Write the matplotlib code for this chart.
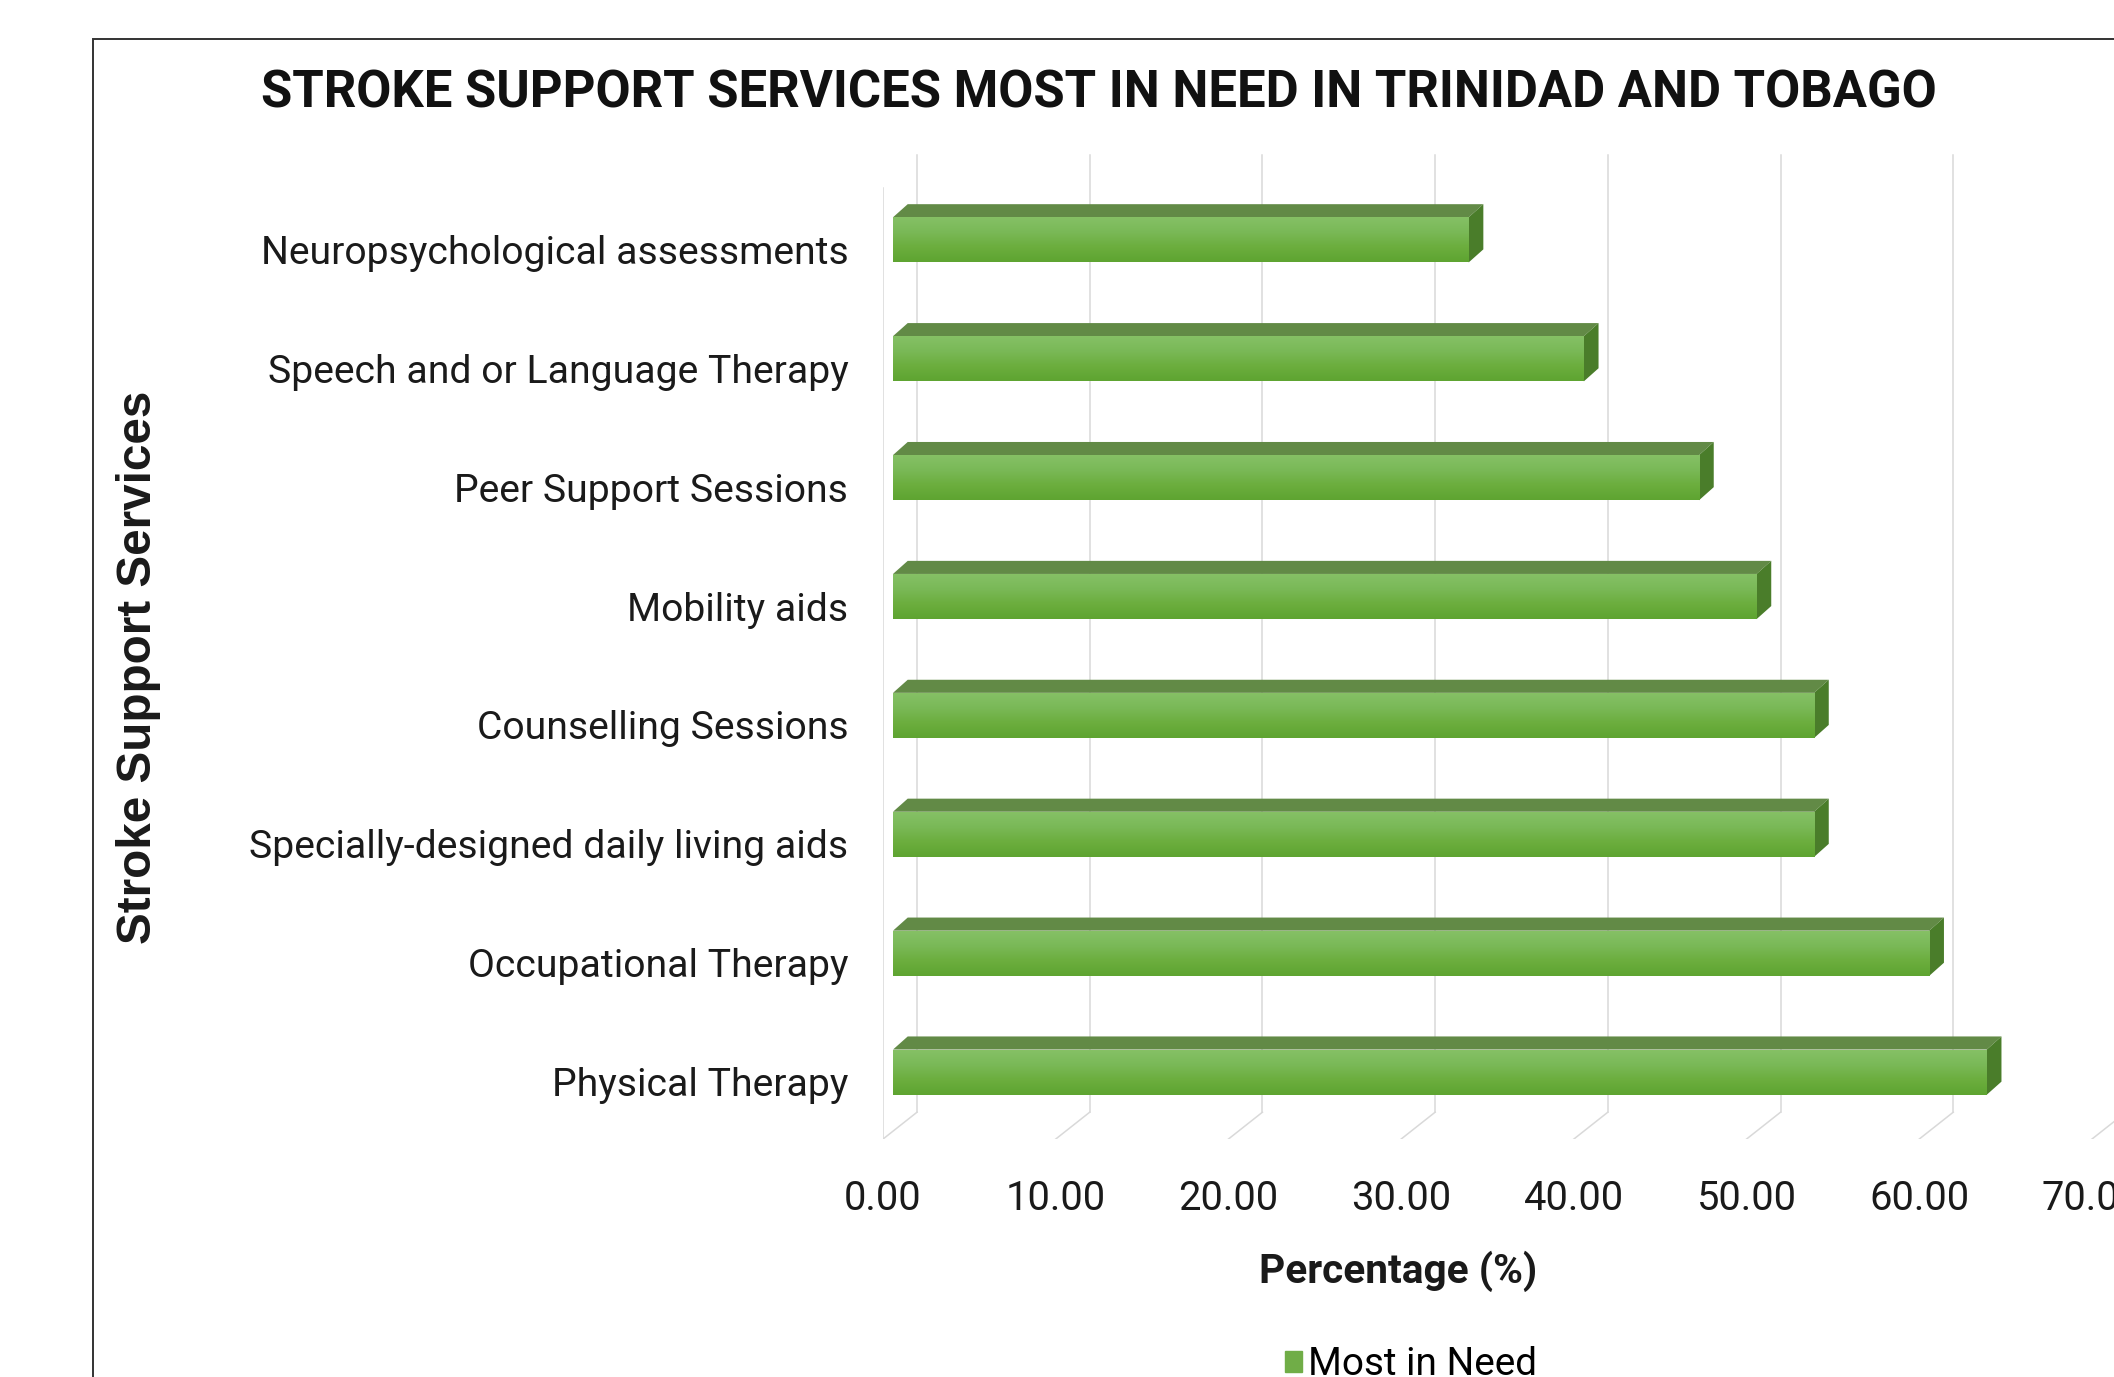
import numpy as np
import matplotlib
matplotlib.use('Agg')
import matplotlib.pyplot as plt
from matplotlib.patches import Polygon, Rectangle
from matplotlib.colors import LinearSegmentedColormap

# data (bottom to top, as drawn)
services = ["Physical Therapy", "Occupational Therapy", "Specially-designed daily living aids",
            "Counselling Sessions", "Mobility aids", "Peer Support Sessions",
            "Speech and or Language Therapy", "Neuropsychological assessments"]
percent = [63.33, 60.00, 53.33, 53.33, 50.00, 46.67, 40.00, 33.33]
x_ticks = [0, 10, 20, 30, 40, 50, 60, 70]
series_name = "Most in Need"
title = "STROKE SUPPORT SERVICES MOST IN NEED IN TRINIDAD AND TOBAGO"

# fake 3d geometry (data units)
floor_front, floor_back = -0.483, -0.257
wall_dx, wall_top, front_top = 1.97, 7.79, 7.52
bar_x0, bar_lo, bar_hi = 0.58, -0.11, 0.27
top_dx, top_dy = 0.85, 0.11

narrow = 'Roboto'
grid_c = '#d9d9d9'
txt_c = '#1a1a1a'

fig = plt.figure(figsize=(21.14, 13.77), dpi=100)
fig.patches.append(Rectangle((0.044, -0.2), 1.2, 0.2 + 0.9717, transform=fig.transFigure,
                             fill=False, edgecolor='#333333', linewidth=1.4))
renderer = fig.canvas.get_renderer()


def fit_size(text, target_px, **kw):
    # font size that makes text about target_px wide
    t = fig.text(0, 0, text, fontsize=30, **kw)
    w = t.get_window_extent(renderer).width
    t.remove()
    return 30 * target_px / w


ax = fig.add_axes([0.4177, 0.1728, 0.5923, 0.7195])
ax.patch.set_visible(False)
for s in ax.spines.values():
    s.set_visible(False)

# walls / gridlines
ax.plot([0, 0], [floor_front, front_top], color=grid_c, lw=1.1, zorder=1)
for t in x_ticks:
    ax.plot([t, t + wall_dx], [floor_front, floor_back], color=grid_c, lw=1.1, zorder=1)
    ax.plot([t + wall_dx, t + wall_dx], [floor_back, wall_top], color=grid_c, lw=1.1, zorder=1)

ypos = np.arange(len(services))
bars = ax.barh(ypos + (bar_lo + bar_hi) / 2, percent, left=bar_x0, height=bar_hi - bar_lo,
               color='#70ad47', edgecolor='none', zorder=3, label=series_name)

grad = LinearSegmentedColormap.from_list('g', ['#5ea431', '#6cae3e', '#7ab958', '#86c166'])
g = np.linspace(0, 1, 100).reshape(-1, 1)
for y, v, b in zip(ypos, percent, bars):
    im = ax.imshow(g, cmap=grad, origin='lower', aspect='auto', interpolation='bicubic',
                   extent=[bar_x0, bar_x0 + v, y + bar_lo, y + bar_hi], zorder=4)
    im.set_clip_path(b)
    top = Polygon([(bar_x0, y + bar_hi), (bar_x0 + top_dx, y + bar_hi + top_dy),
                   (bar_x0 + v + top_dx, y + bar_hi + top_dy), (bar_x0 + v, y + bar_hi)],
                  closed=True, facecolor='#628a46', edgecolor='none', zorder=3)
    side = Polygon([(bar_x0 + v, y + bar_lo), (bar_x0 + v, y + bar_hi),
                    (bar_x0 + v + top_dx, y + bar_hi + top_dy), (bar_x0 + v + top_dx, y + bar_lo + top_dy)],
                   closed=True, facecolor='#4a7d2a', edgecolor='none', zorder=3)
    ax.add_patch(top)
    ax.add_patch(side)

ax.set_xlim(0, 72.5)
ax.set_ylim(floor_front, 7.85)

tick_fs = fit_size("10.00", 100, family=narrow)
cat_fs = fit_size("Neuropsychological assessments", 585, family=narrow)

ax.set_xticks(x_ticks)
ax.set_xticklabels([f"{t:.2f}" for t in x_ticks], family=narrow, fontsize=tick_fs, color=txt_c)
ax.set_yticks(ypos)
ax.set_yticklabels(services, family=narrow, fontsize=cat_fs, color=txt_c)
ax.tick_params(axis='x', length=0, pad=29)
ax.tick_params(axis='y', length=0, pad=25)

xl_fs = fit_size("Percentage (%)", 278, family=narrow, fontweight='bold')
ax.set_xlabel("Percentage (%)", family=narrow, fontsize=xl_fs, fontweight='bold', color=txt_c)
ax.xaxis.label.set_va('center')
ax.xaxis.set_label_coords(0.411, -0.134)

yl_fs = fit_size("Stroke Support Services", 553, family='Liberation Sans', fontweight='bold')
ax.set_ylabel("Stroke Support Services", family='Liberation Sans', fontsize=yl_fs,
              fontweight='bold', color=txt_c)
ax.yaxis.label.set_va('center')
ax.yaxis.set_label_coords(-0.595, 0.476)

title_fs = fit_size(title, 1672, family=narrow, fontweight='bold')
fig.text(0.52, 0.9318, title, family=narrow, fontsize=title_fs, fontweight='bold',
         ha='center', va='center', color='#111111')

leg_fs = fit_size(series_name, 229, family=narrow)
leg = ax.legend(handles=[Rectangle((0, 0), 1, 1, color='#70ad47')], labels=[series_name],
                loc='center', bbox_to_anchor=(0.6675, 0.009), bbox_transform=fig.transFigure,
                frameon=False, handlelength=0.45, handleheight=0.45, handletextpad=0.15,
                prop={'family': narrow, 'size': leg_fs})

fig.savefig('out.png', dpi=100)
